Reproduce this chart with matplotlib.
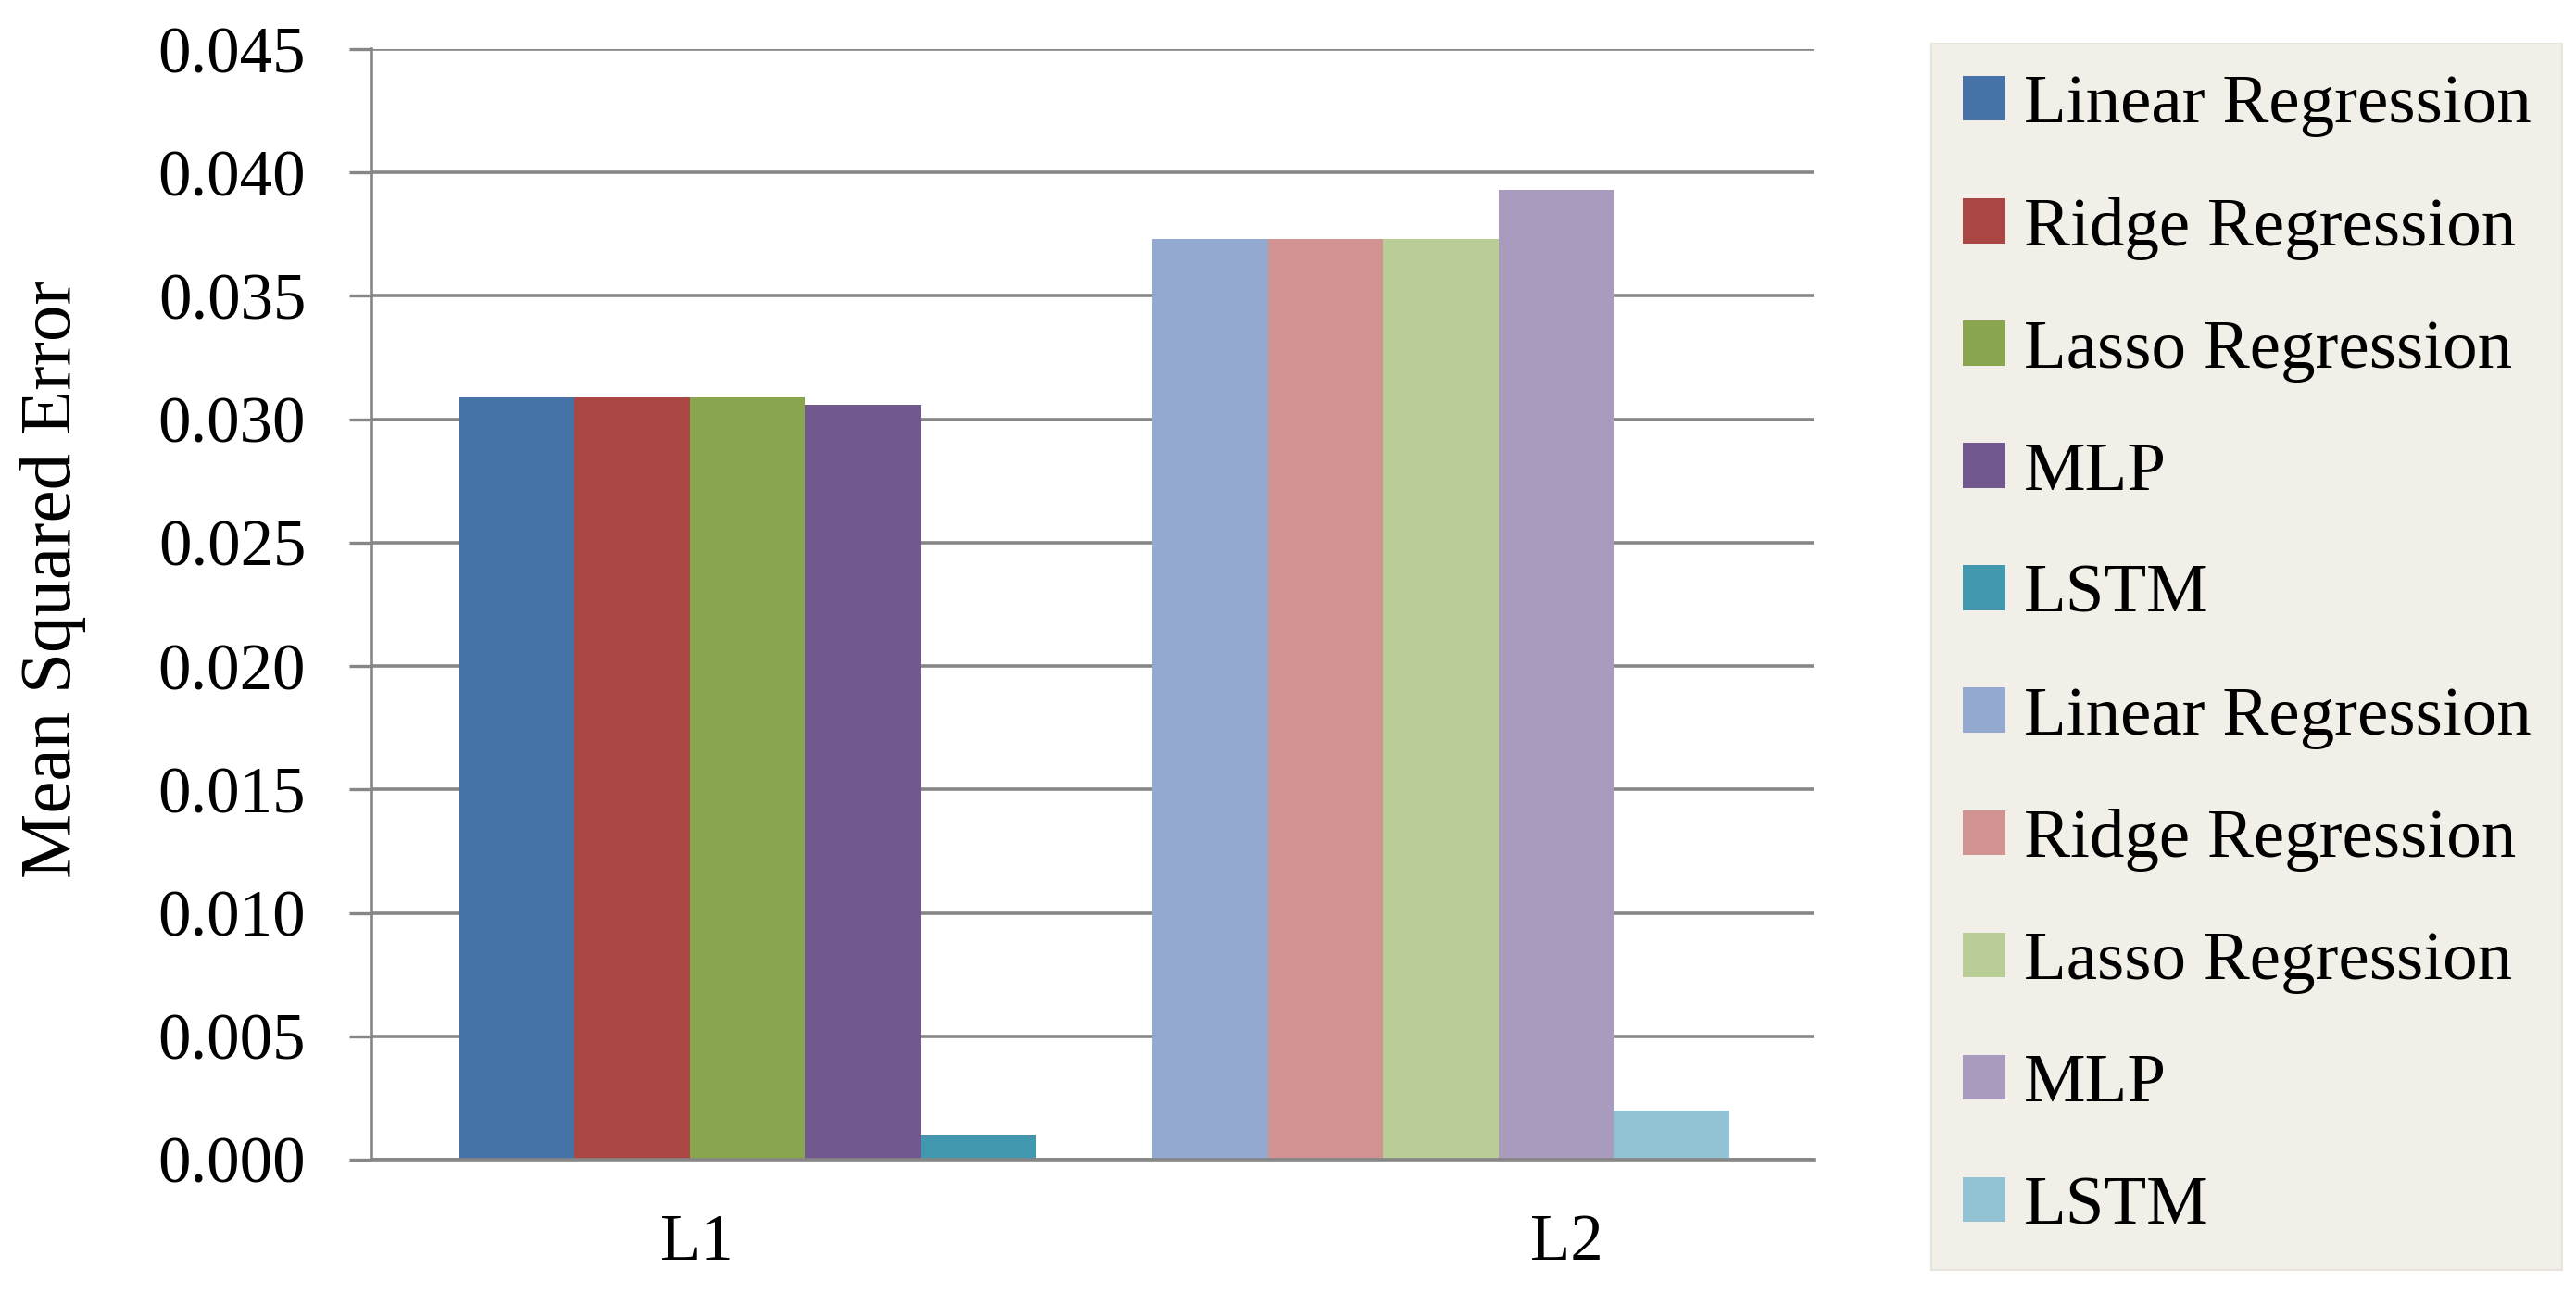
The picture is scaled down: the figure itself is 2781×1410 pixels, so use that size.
import matplotlib.pyplot as plt
from matplotlib.patches import Patch
from matplotlib.ticker import FormatStrFormatter

# ---- data ----
groups = ["L1", "L2"]
models = ["Linear Regression", "Ridge Regression", "Lasso Regression", "MLP", "LSTM"]
mse_l1 = [0.0309, 0.0309, 0.0309, 0.0306, 0.0010]
mse_l2 = [0.0373, 0.0373, 0.0373, 0.0393, 0.0020]

colors_l1 = ["#4572A7", "#AA4643", "#89A54E", "#71588F", "#4198AF"]
colors_l2 = ["#93A9CF", "#D19392", "#B9CD96", "#A99BBD", "#92C3D5"]

plt.rcParams["font.family"] = ["Liberation Serif", "DejaVu Serif"]
FS = 51
LEG_FS = 54
GRAY = "#868686"

fig = plt.figure(figsize=(27.81, 14.10), dpi=100)
ax = fig.add_axes([0.1442, 0.1121, 0.5599, 0.8503])

# group layout (data units, category width = 1)
group_centers = [0.5215, 1.483]
label_pos = [0.451, 1.657]
bw = 0.16

handles = []
for g, (vals, cols) in enumerate([(mse_l1, colors_l1), (mse_l2, colors_l2)]):
    for i, (v, c) in enumerate(zip(vals, cols)):
        x = group_centers[g] + (i - 2) * bw
        ax.bar(x, v, width=bw, color=c, edgecolor="none", zorder=2)
        handles.append(Patch(facecolor=c, edgecolor="none", label=models[i]))

ax.set_xlim(0, 2)
ax.set_ylim(0, 0.045)
ax.set_yticks([i * 0.005 for i in range(10)])
ax.yaxis.set_major_formatter(FormatStrFormatter("%.3f"))
ax.set_xticks(label_pos)
ax.set_xticklabels(groups)

ax.grid(axis="y", color=GRAY, linewidth=2.6, zorder=0)
ax.set_axisbelow(True)
for s in ["top", "right"]:
    ax.spines[s].set_visible(False)
for s in ["left", "bottom"]:
    ax.spines[s].set_color(GRAY)
    ax.spines[s].set_linewidth(2.6)
    ax.spines[s].set_zorder(3)

ax.tick_params(axis="y", length=17, width=2.4, color=GRAY, pad=34, labelsize=FS)
ax.tick_params(axis="x", length=0, pad=42, labelsize=FS)

ax.set_ylabel("Mean Squared Error", fontsize=57)
ax.yaxis.set_label_coords(-0.198, 0.523)

leg = fig.legend(handles=handles, loc="upper left", bbox_to_anchor=(0.7497, 0.9667),
                 fontsize=LEG_FS, frameon=True, fancybox=False, borderaxespad=0,
                 borderpad=0.45, handlelength=0.62, handleheight=0.62,
                 handletextpad=0.26, labelspacing=0.86)
leg.get_frame().set_facecolor("#EEECE1")
leg.get_frame().set_edgecolor("#E2E0D6")
leg.get_frame().set_linewidth(1.5)

fig.savefig("out.png", dpi=100, facecolor="white")
